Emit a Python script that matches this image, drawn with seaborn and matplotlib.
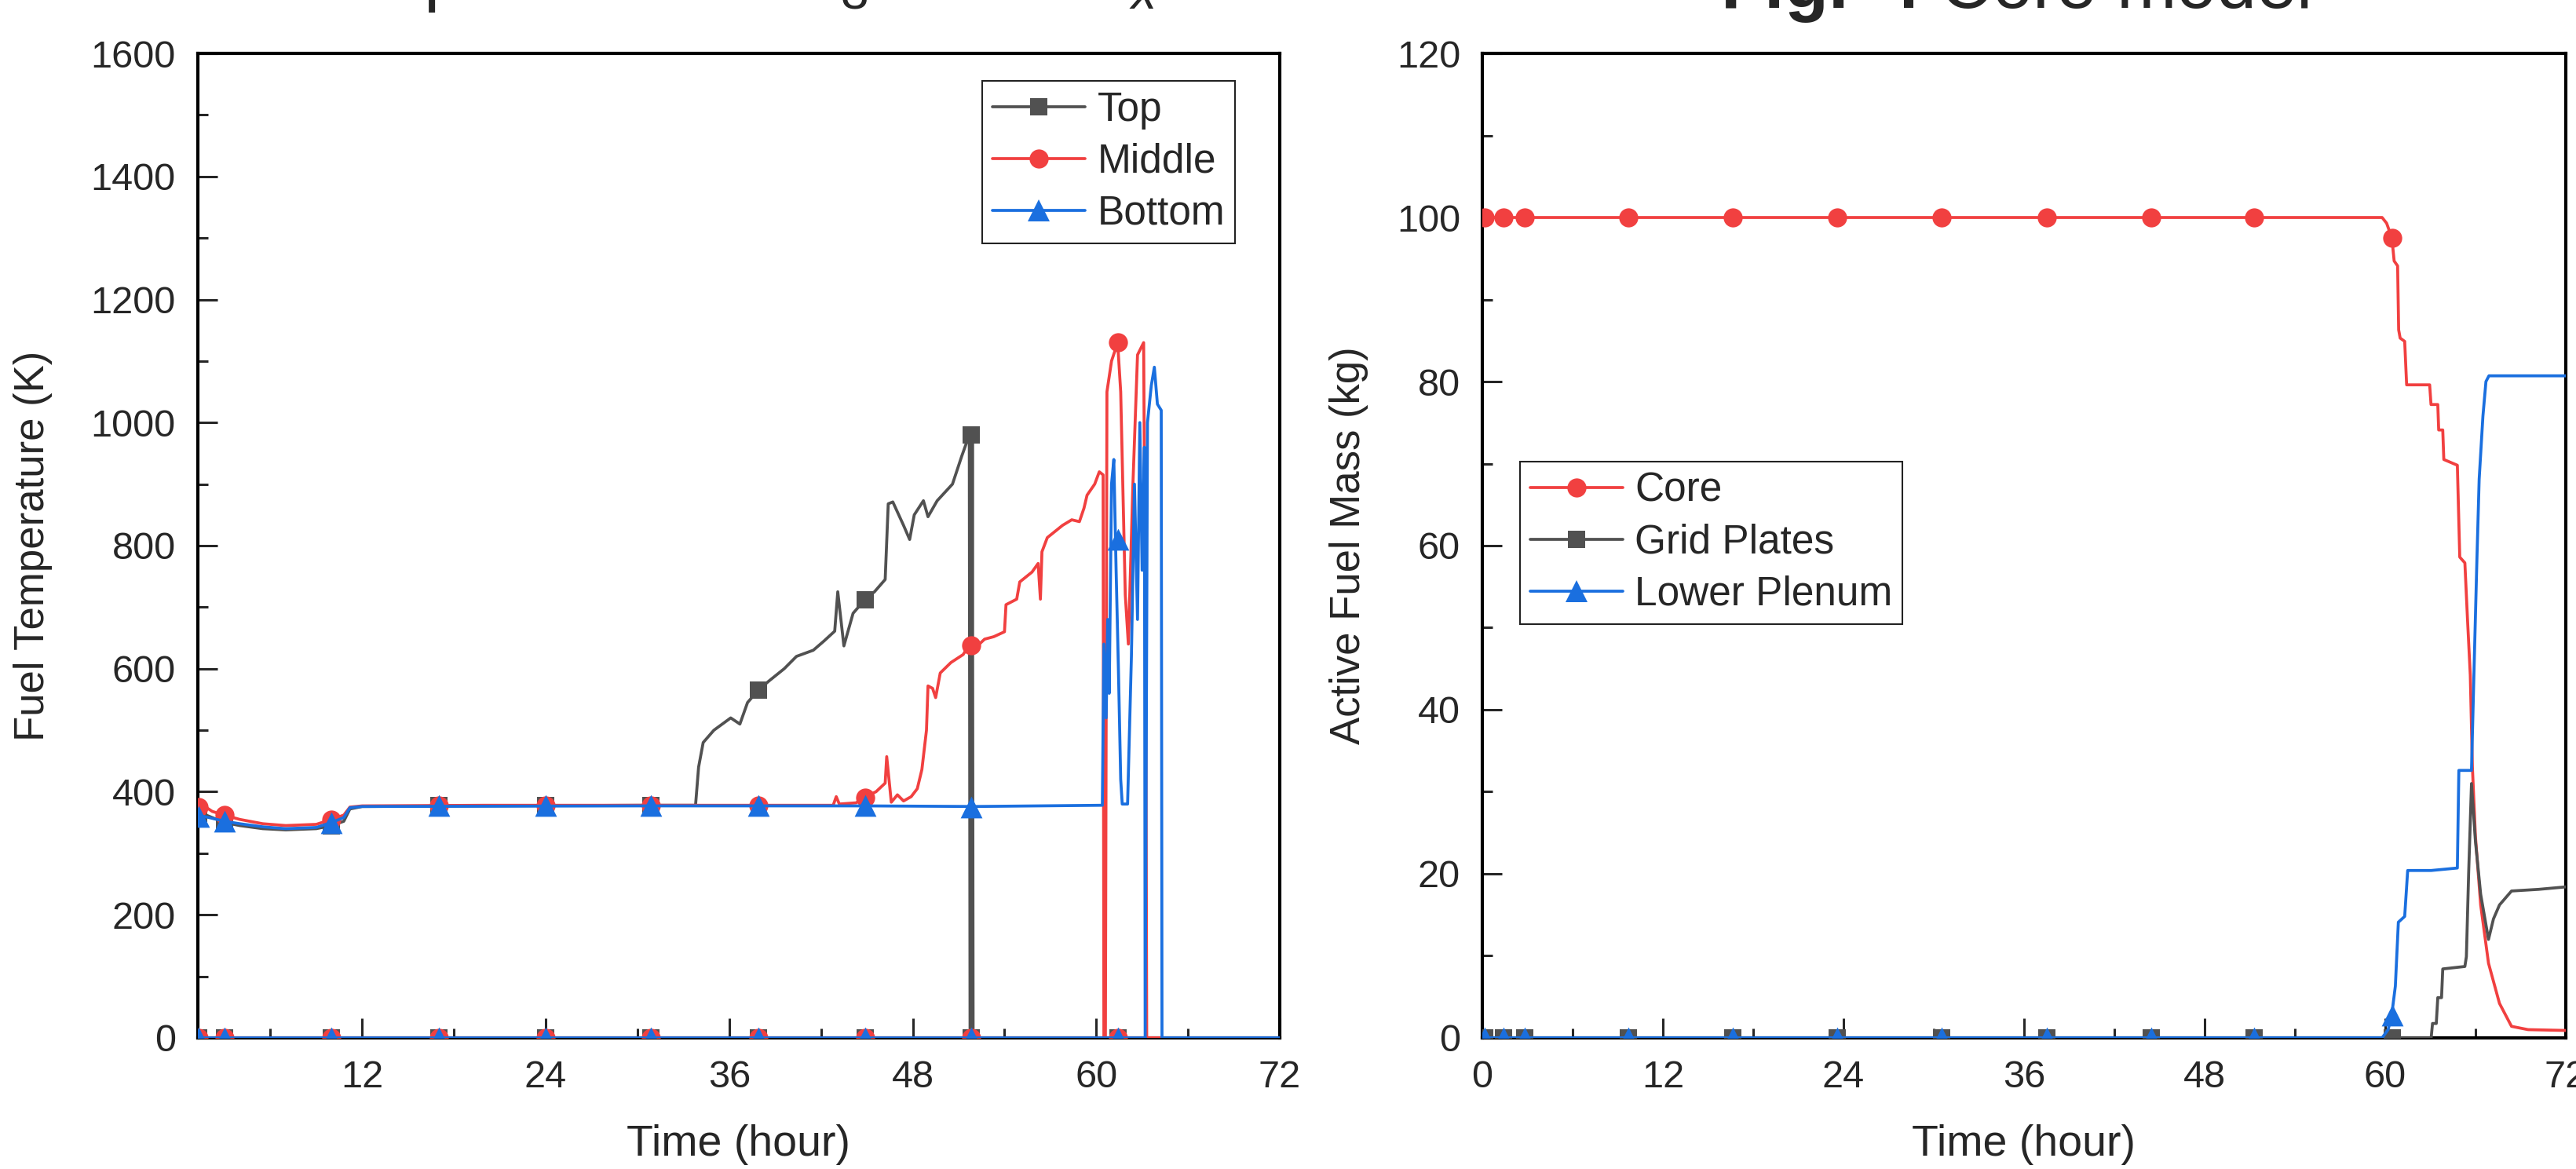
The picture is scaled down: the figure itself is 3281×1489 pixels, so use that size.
import matplotlib
matplotlib.use('Agg')
import matplotlib.pyplot as plt
import seaborn as sns
from matplotlib.lines import Line2D
from matplotlib.ticker import MultipleLocator

GRAY = '#515151'
RED = '#F14040'
BLUE = '#1A6FDF'

# ---- left panel: fuel temperature (K) vs time (hour) ----
top_t = [1.24, 1.8, 2.5, 3.0, 4.0, 5.5, 7.0, 9.0, 10.0, 10.8, 11.2, 12.0, 20.0, 30.0,
         33.8, 34.0, 34.3, 35.0, 36.1, 36.7, 37.2, 37.9, 38.6, 39.6, 40.4, 41.5, 42.2,
         42.9, 43.1, 43.5, 44.1, 44.9, 45.5, 46.2, 46.4, 46.7, 47.4, 47.8, 48.1, 48.7,
         49.0, 49.6, 50.6, 51.2, 51.7, 51.75, 51.85, 51.9, 51.95, 72.0]
top_T = [368, 362, 355, 350, 345, 340, 338, 340, 345, 352, 372, 376, 377, 378,
         378, 440, 480, 500, 520, 510, 545, 565, 580, 600, 620, 630, 645,
         661, 725, 637, 690, 713, 725, 745, 868, 871, 833, 810, 850, 873,
         847, 873, 900, 945, 980, 0, 0, 980, 0, 0]

mid_t = [1.24, 1.6, 2.2, 3.0, 4.0, 5.5, 7.0, 9.0, 10.0, 10.8, 11.2, 12.0, 20.0, 30.0,
         42.8, 43.0, 43.2, 44.3, 44.9, 45.6, 46.2, 46.3, 46.6, 47.0, 47.4, 47.9, 48.3,
         48.6, 48.9, 49.0, 49.3, 49.5, 49.8, 50.5, 51.3, 51.7, 52.1, 52.7, 53.3, 54.0,
         54.1, 54.8, 55.0, 55.8, 56.2, 56.35, 56.45, 56.8, 57.8, 58.4, 58.9, 59.2, 59.4,
         59.9, 60.2, 60.45, 60.5, 60.6, 60.7, 61.0, 61.4, 61.6, 61.9, 62.1, 62.4, 62.7,
         63.1, 63.25, 63.3, 72.0]
mid_T = [385, 378, 368, 362, 355, 348, 345, 347, 355, 362, 375, 377, 378, 378,
         378, 392, 380, 382, 392, 400, 414, 457, 383, 395, 385, 392, 405,
         436, 500, 572, 568, 553, 593, 610, 623, 639, 634, 648, 652, 660,
         704, 713, 741, 757, 771, 713, 790, 813, 833, 842, 839, 861, 882,
         900, 920, 915, 0, 0, 1050, 1100, 1130, 1050, 720, 640, 900, 1110,
         1130, 500, 0, 0]

bot_t = [1.24, 2.0, 3.0, 4.0, 5.5, 7.0, 9.0, 10.0, 10.8, 11.2, 12.0, 30.0, 45.0, 52.0,
         60.4, 60.5, 60.65, 60.75, 60.85, 61.0, 61.15, 61.3, 61.45, 61.6, 61.7, 62.05,
         62.3, 62.5, 62.7, 62.85, 63.0, 63.15, 63.2, 63.35, 63.6, 63.8, 64.0, 64.25,
         64.3, 72.0]
bot_T = [362, 358, 352, 348, 343, 340, 342, 350, 358, 374, 376, 377, 377, 376,
         378, 640, 520, 680, 560, 900, 940, 760, 600, 420, 380, 380,
         620, 900, 680, 1000, 760, 960, 0, 1000, 1060, 1090, 1030, 1020,
         0, 0]

# marker positions (Origin style, every N points) and the zero-valued records
left_mark_t = [1.3, 3.0, 10.0, 17.0, 24.0, 30.9, 37.9, 44.9, 51.8, 61.4]
top_mark_T = [365, 350, 345, 378, 378, 378, 565, 712, 980, 0]
mid_mark_T = [375, 362, 355, 378, 378, 378, 378, 390, 638, 1130]
bot_mark_T = [360, 352, 350, 378, 378, 378, 378, 378, 375, 810]
bot_zero_end = 63.2

# ---- right panel: active fuel mass (kg) vs time (hour) ----
core_t = [0.0, 59.8, 60.1, 60.45, 60.6, 60.83, 60.9, 61.0, 61.3, 61.43, 62.96, 63.05,
          63.5, 63.56, 63.83, 63.9, 64.8, 64.96, 65.3, 65.47, 65.66, 65.8, 66.0, 66.35,
          66.87, 67.6, 68.4, 69.5, 72.0]
core_M = [100, 100, 99.3, 97.5, 94.7, 94.1, 86.3, 85.3, 84.9, 79.6, 79.6, 77.2,
          77.2, 74.1, 74.1, 70.5, 69.8, 58.6, 57.9, 51.2, 44.2, 33.0, 24.6, 16.2,
          9.1, 4.2, 1.4, 1.0, 0.9]

grid_t = [0.0, 63.06, 63.15, 63.4, 63.5, 63.75, 63.83, 65.3, 65.4, 65.55, 65.74, 66.0,
          66.35, 66.87, 67.2, 67.6, 68.4, 70.2, 72.0]
grid_M = [0, 0, 1.75, 1.75, 4.9, 4.9, 8.4, 8.7, 9.9, 20.0, 31.0, 24.0,
          17.5, 12.0, 14.5, 16.2, 17.9, 18.1, 18.4]

plen_t = [0.0, 59.8, 60.2, 60.44, 60.68, 60.88, 61.3, 61.5, 63.06, 64.8, 64.9, 65.74,
          65.9, 66.1, 66.25, 66.5, 66.7, 66.9, 72.0]
plen_M = [0, 0, 1.0, 2.8, 6.3, 14.1, 14.8, 20.4, 20.4, 20.7, 32.6, 32.6,
          44.2, 58.3, 68.1, 75.8, 80.0, 80.7, 80.7]

right_mark_t = [0.15, 1.4, 2.8, 9.7, 16.65, 23.6, 30.55, 37.5, 44.45, 51.3, 60.45]
core_mark_M = [100, 100, 100, 100, 100, 100, 100, 100, 100, 100, 97.5]
grid_mark_M = [0, 0, 0, 0, 0, 0, 0, 0, 0, 0, 0]
plen_mark_M = [0, 0, 0, 0, 0, 0, 0, 0, 0, 0, 2.8]

sns.set_style('ticks')
plt.rcParams['font.family'] = ['Liberation Sans', 'DejaVu Sans']
plt.rcParams['mathtext.fontset'] = 'custom'
plt.rcParams['mathtext.rm'] = 'Liberation Sans'
plt.rcParams['mathtext.it'] = 'Liberation Sans:italic'
plt.rcParams['mathtext.bf'] = 'Liberation Sans:bold'

LW = 2.7
MS = {'s': 16.5, 'o': 17.5, '^': 20}


def draw_series(ax, t, v, mt, mv, color, marker, z):
    sns.lineplot(x=t, y=v, sort=False, estimator=None, ax=ax, color=color,
                 lw=LW, zorder=z)
    sns.scatterplot(x=mt, y=mv, ax=ax, color=color, marker=marker,
                    s=MS[marker] ** 2, linewidth=0, zorder=z + 0.05)


def zero_line(ax, t0, t1, mt, color, marker, z):
    sns.lineplot(x=[t0, t1], y=[0, 0], ax=ax, color=color, lw=LW, zorder=z)
    sns.scatterplot(x=mt, y=[0] * len(mt), ax=ax, color=color, marker=marker,
                    s=MS[marker] ** 2, linewidth=0, zorder=z + 0.05)


def style_axes(ax, ymajor, yminor):
    ax.xaxis.set_major_locator(MultipleLocator(12))
    ax.xaxis.set_minor_locator(MultipleLocator(6))
    ax.yaxis.set_major_locator(MultipleLocator(ymajor))
    ax.yaxis.set_minor_locator(MultipleLocator(yminor))
    ax.tick_params(which='both', direction='in', width=2.2, labelsize=35,
                   pad=20, top=False, right=False)
    ax.tick_params(which='major', length=18)
    ax.tick_params(which='minor', length=9)
    for sp in ax.spines.values():
        sp.set_linewidth(3.0)
        sp.set_color('black')
        sp.set_zorder(2.5)


def make_legend(ax, handles_spec, loc, anchor):
    handles = [Line2D([], [], color=c, lw=LW, marker=m, markersize=MS[m],
                      markeredgewidth=0, label=lab) for lab, c, m in handles_spec]
    leg = ax.legend(handles=handles, loc=loc, bbox_to_anchor=anchor,
                    fontsize=37, frameon=True, fancybox=False, framealpha=1,
                    edgecolor='#222222', borderpad=0.25, borderaxespad=0,
                    handlelength=2.3, handletextpad=0.3, labelspacing=0.33)
    leg.get_frame().set_linewidth(1.5)
    leg.set_zorder(20)


fig = plt.figure(figsize=(32.81, 14.89), dpi=100)
ax1 = fig.add_axes([0.0767, 0.1122, 0.4201, 0.8421])
ax2 = fig.add_axes([0.5754, 0.1122, 0.4206, 0.8421])

# left panel
zero_line(ax1, 1.24, 72, left_mark_t, GRAY, 's', 3.0)
draw_series(ax1, top_t, top_T, left_mark_t, top_mark_T, GRAY, 's', 3.1)
zero_line(ax1, 1.24, 72, left_mark_t, RED, 'o', 3.2)
draw_series(ax1, mid_t, mid_T, left_mark_t, mid_mark_T, RED, 'o', 3.3)
zero_line(ax1, 1.24, bot_zero_end, left_mark_t, BLUE, '^', 3.4)
draw_series(ax1, bot_t, bot_T, left_mark_t, bot_mark_T, BLUE, '^', 3.5)

ax1.set_xlim(1.24, 72)
ax1.set_ylim(0, 1600)
style_axes(ax1, 200, 100)
ax1.set_xlabel('Time (hour)', fontsize=40)
ax1.set_ylabel('Fuel Temperature (K)', fontsize=38)
ax1.xaxis.set_label_coords(0.5, -0.088)
ax1.yaxis.set_label_coords(-0.134, 0.5)
make_legend(ax1, [('Top', GRAY, 's'), ('Middle', RED, 'o'), ('Bottom', BLUE, '^')],
            'upper right', (0.9587, 0.972))

# right panel
draw_series(ax2, core_t, core_M, right_mark_t, core_mark_M, RED, 'o', 3.0)
draw_series(ax2, grid_t, grid_M, right_mark_t, grid_mark_M, GRAY, 's', 3.2)
draw_series(ax2, plen_t, plen_M, right_mark_t, plen_mark_M, BLUE, '^', 3.4)

ax2.set_xlim(0, 72)
ax2.set_ylim(0, 120)
style_axes(ax2, 20, 10)
ax2.set_xlabel('Time (hour)', fontsize=40)
ax2.set_ylabel('Active Fuel Mass (kg)', fontsize=38)
ax2.xaxis.set_label_coords(0.5, -0.088)
ax2.yaxis.set_label_coords(-0.105, 0.5)
make_legend(ax2, [('Core', RED, 'o'), ('Grid Plates', GRAY, 's'),
                  ('Lower Plenum', BLUE, '^')],
            'upper left', (0.0348, 0.5853))

# titles, cut off by the top edge as in the source image
fig.text(0.0467, 1.002, r'Fuel Temperature in U$_3$Si & UO$_x$',
         fontsize=66, ha='left', va='baseline')
fig.text(0.782, 0.9933, r'$\mathbf{Fig.\ 4}$ Core model',
         fontsize=66, ha='center', va='baseline')

fig.savefig('out.png', dpi=100)
